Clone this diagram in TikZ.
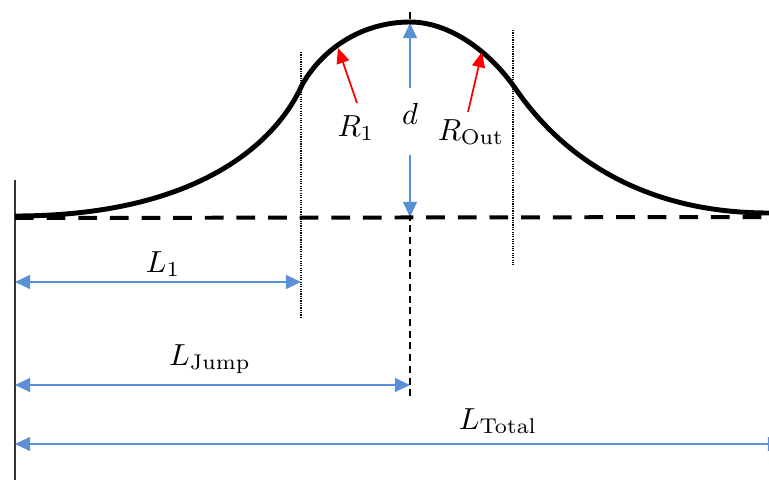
\documentclass[tikz,border=0pt]{standalone}
\usepackage{amsmath}
\usetikzlibrary{arrows.meta}
\definecolor{dimblue}{HTML}{5B8FD6}
\definecolor{radred}{HTML}{FF0000}
\definecolor{wallgray}{HTML}{333333}
\tikzset{
  profile/.style={line width=4.2pt,color=black,line join=round},
  groundline/.style={line width=3.4pt,color=black,dash pattern=on 16pt off 11pt},
  axisline/.style={line width=1.1pt,color=black,dash pattern=on 6pt off 4pt},
  guideline/.style={line width=1pt,color=black,densely dotted},
  wallline/.style={line width=1pt,color=wallgray},
  dimarr/.style={{Triangle[length=13pt,width=12pt]}-{Triangle[length=13pt,width=12pt]},
    line width=1.2pt,color=dimblue},
  dimtip/.style={-{Triangle[length=13pt,width=12pt]},line width=1.2pt,color=dimblue},
  radarr/.style={-{Triangle[length=13pt,width=11pt]},line width=1.5pt,color=radred},
  dimlabel/.style={scale=2.6,inner sep=0pt},
}
\begin{document}
\begin{tikzpicture}[x=0.03cm,y=-0.03cm]
  \useasboundingbox (0,0) rectangle (769,479);

  % guide lines
  \coordinate (walltop) at (15,180);
  \coordinate (wallbot) at (15,482);
  \coordinate (g1top) at (301,52);
  \coordinate (g1bot) at (301,318);
  \coordinate (g2top) at (513,30);
  \coordinate (g2bot) at (513,265);
  \coordinate (axtop) at (410,12);
  \coordinate (axbot) at (410,397);
  \draw[wallline] (walltop) -- (wallbot);
  \draw[guideline] (g1top) -- (g1bot);
  \draw[guideline] (g2top) -- (g2bot);

  % height d
  \coordinate (dtop) at (410,23);
  \coordinate (dup) at (410,88);
  \coordinate (ddown) at (410,155);
  \coordinate (dbot) at (410,217);
  \draw[axisline] (axtop) -- (dup);
  \draw[axisline] (ddown) -- (axbot);
  \draw[dimtip] (dup) -- (dtop);
  \draw[dimtip] (ddown) -- (dbot);
  \node[dimlabel] (dlab) at (410,114) {$d$};

  % ground and jump profile
  \coordinate (gleft) at (15,218);
  \coordinate (gright) at (769,217);
  \draw[groundline] (gleft) -- (gright);
  \draw[profile] (15,216) .. controls (200,216) and (277,141) .. (302,85)
    .. controls (324,46) and (365,22) .. (410,22)
    .. controls (450,22) and (490,52) .. (515,88)
    .. controls (540,124) and (610,213) .. (769,213);

  % radii
  \node[dimlabel] (r1lab) at (356,128) {$R_1$};
  \node[dimlabel] (routlab) at (471,132) {$R_{\mathrm{Out}}$};
  \coordinate (r1tip) at (338,48);
  \coordinate (routtip) at (482,52);
  \draw[radarr] (357,103) -- (r1tip);
  \draw[radarr] (468,112) -- (routtip);

  % lengths
  \coordinate (l1a) at (15,282);
  \coordinate (l1b) at (301,282);
  \coordinate (lja) at (15,385);
  \coordinate (ljb) at (410,385);
  \coordinate (lta) at (15,444);
  \coordinate (ltb) at (783,444);
  \draw[dimarr] (l1a) -- (l1b);
  \draw[dimarr] (lja) -- (ljb);
  \draw[dimarr] (lta) -- (ltb);
  \node[dimlabel] (l1lab) at (163,264) {$L_1$};
  \node[dimlabel] (ljlab) at (210,359) {$L_{\mathrm{Jump}}$};
  \node[dimlabel] (ltlab) at (498,421) {$L_{\mathrm{Total}}$};
\end{tikzpicture}
\end{document}
